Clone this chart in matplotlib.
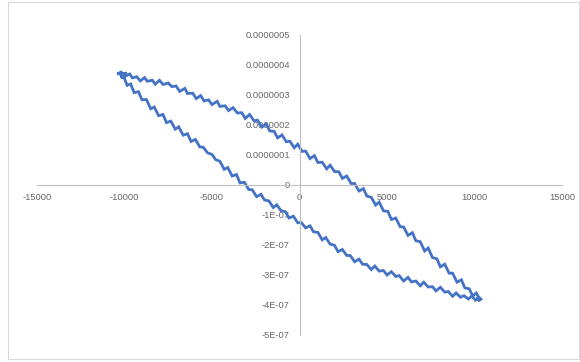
import matplotlib
matplotlib.use("Agg")
import matplotlib.pyplot as plt
from matplotlib.patches import Rectangle

# ---- data (x in field units, y in units of 1e-7) ----
upper_x = [-10350, -10150, -10250, -9900, -10050, -9700, -9550, -9300, -9100, -8850,
           -8700, -8400, -8250, -8000, -7800, -7500, -7300, -7050, -6850, -6550,
           -6400, -6100, -5900, -5650, -5450, -5200, -5000, -4700, -4550, -4250,
           -4050, -3800, -3550, -3300, -3100, -2850, -2600, -2400, -2150, -1900,
           -1700, -1450, -1250, -1000, -750, -550, -300, -100, 150, 350,
           600, 850, 1050, 1300, 1550, 1750, 2000, 2250, 2450, 2700,
           2950, 3150, 3400, 3650, 3850, 4100, 4350, 4550, 4800, 5050,
           5250, 5500, 5750, 5950, 6200, 6450, 6650, 6900, 7150, 7350,
           7600, 7850, 8050, 8300, 8550, 8750, 9000, 9250, 9450, 9700,
           9900, 10100, 10300, 10150, 10350]
upper_y = [3.72, 3.78, 3.65, 3.74, 3.60, 3.70, 3.57, 3.61, 3.47, 3.58,
           3.46, 3.49, 3.36, 3.49, 3.35, 3.40, 3.28, 3.30, 3.12, 3.22,
           3.05, 3.06, 2.88, 2.98, 2.80, 2.84, 2.68, 2.79, 2.62, 2.64,
           2.48, 2.58, 2.40, 2.41, 2.22, 2.35, 2.14, 2.16, 1.93, 2.03,
           1.80, 1.79, 1.57, 1.67, 1.44, 1.46, 1.24, 1.36, 1.12, 1.13,
           0.88, 0.98, 0.75, 0.76, 0.54, 0.66, 0.45, 0.44, 0.22, 0.30,
           0.05, 0.05, -0.20, -0.12, -0.37, -0.41, -0.67, -0.57, -0.86, -0.88,
           -1.15, -1.10, -1.39, -1.40, -1.68, -1.59, -1.86, -1.89, -2.20, -2.10,
           -2.42, -2.46, -2.73, -2.64, -2.94, -2.94, -3.24, -3.16, -3.43, -3.46,
           -3.70, -3.60, -3.80, -3.72, -3.81]

lower_x = [10200, 10350, 10050, 9850, 9650, 9400, 9200, 8950, 8750, 8500,
           8300, 8050, 7800, 7600, 7350, 7100, 6900, 6650, 6400, 6200,
           5950, 5700, 5500, 5250, 5000, 4800, 4550, 4300, 4100, 3850,
           3600, 3400, 3150, 2900, 2700, 2450, 2200, 2000, 1750, 1500,
           1300, 1050, 800, 600, 350, 100, -100, -350, -600, -800,
           -1050, -1300, -1500, -1750, -2000, -2200, -2450, -2700, -2900, -3150,
           -3400, -3600, -3850, -4100, -4300, -4550, -4800, -5000, -5250, -5500,
           -5700, -5950, -6200, -6400, -6650, -6900, -7100, -7350, -7600, -7800,
           -8050, -8300, -8500, -8750, -9000, -9200, -9450, -9650, -9850, -10050,
           -10200, -10000, -10350]
lower_y = [-3.86, -3.75, -3.84, -3.70, -3.80, -3.69, -3.74, -3.60, -3.71, -3.55,
           -3.57, -3.41, -3.53, -3.39, -3.40, -3.24, -3.36, -3.20, -3.23, -3.08,
           -3.20, -3.02, -3.05, -2.89, -3.00, -2.85, -2.87, -2.70, -2.82, -2.65,
           -2.64, -2.47, -2.56, -2.35, -2.35, -2.15, -2.22, -2.01, -1.97, -1.75,
           -1.83, -1.58, -1.56, -1.36, -1.43, -1.25, -1.26, -1.04, -1.10, -0.89,
           -0.86, -0.66, -0.75, -0.53, -0.50, -0.31, -0.39, -0.16, -0.15, 0.09,
           0.07, 0.35, 0.30, 0.58, 0.52, 0.79, 0.85, 1.02, 1.07, 1.26,
           1.27, 1.52, 1.45, 1.71, 1.66, 1.94, 1.86, 2.13, 2.08, 2.35,
           2.31, 2.60, 2.54, 2.85, 2.84, 3.11, 3.08, 3.37, 3.32, 3.62,
           3.56, 3.72, 3.72]

x_ticks = [-15000, -10000, -5000, 0, 5000, 10000, 15000]
y_ticks = [5e-7, 4e-7, 3e-7, 2e-7, 1e-7, 0, -1e-7, -2e-7, -3e-7, -4e-7, -5e-7]
y_tick_labels = ["0.0000005", "0.0000004", "0.0000003", "0.0000002", "0.0000001",
                 "0", "-1E-07", "-2E-07", "-3E-07", "-4E-07", "-5E-07"]

plt.rcParams['font.family'] = ['Liberation Sans', 'DejaVu Sans']

W, H = 580, 362
fig = plt.figure(figsize=(W / 100, H / 100), dpi=100)
fig.patches.append(Rectangle((8 / W, 3 / H), 571 / W, 357 / H, transform=fig.transFigure,
                             fill=False, edgecolor='#d9d9d9', linewidth=0.8))

ax = fig.add_axes([37 / W, (H - 335) / H, 525 / W, 300 / H])
ax.set_xlim(-15000, 15000)
ax.set_ylim(-5e-7, 5e-7)

xs = upper_x + lower_x
ys = [v * 1e-7 for v in upper_y + lower_y]
ax.plot(xs, ys, color='#4472C4', linewidth=2.0, solid_joinstyle='miter')

for s in ['top', 'right']:
    ax.spines[s].set_visible(False)
ax.spines['left'].set_position(('data', 0))
ax.spines['bottom'].set_position(('data', 0))
for s in ['left', 'bottom']:
    ax.spines[s].set_color('#bfbfbf')
    ax.spines[s].set_linewidth(0.8)

ax.set_xticks(x_ticks)
ax.set_xticklabels([str(t) for t in x_ticks])
ax.set_yticks(y_ticks)
ax.set_yticklabels(y_tick_labels)
ax.tick_params(axis='both', length=0, labelsize=6.7, labelcolor='#666666')
ax.tick_params(axis='y', pad=7)
ax.tick_params(axis='x', pad=6)
ax.patch.set_alpha(0)

fig.savefig("out.png", dpi=100)
